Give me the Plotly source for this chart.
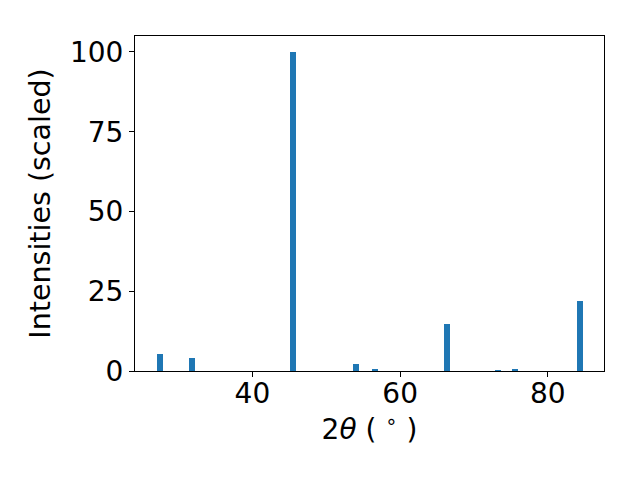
import plotly.graph_objects as go

two_theta = [27.45, 31.8, 45.5, 54.0, 56.6, 66.4, 73.2, 75.5, 84.3]
intensity = [5.3, 4.1, 100.0, 2.2, 0.6, 14.7, 0.3, 0.6, 21.9]
x_ticks = [40, 60, 80]
y_ticks = [0, 25, 50, 75, 100]

fig = go.Figure(go.Bar(x=two_theta, y=intensity, width=0.8,
                       marker=dict(color="#1f77b4", line=dict(width=0))))

axis_common = dict(showline=True, linecolor="black", linewidth=1.1, mirror=True,
                   ticks="outside", ticklen=5, tickwidth=1.1, tickcolor="black",
                   showgrid=False, zeroline=False,
                   tickfont=dict(size=28, color="black"))

fig.update_layout(
    width=640, height=480,
    margin=dict(l=127, r=44, t=28, b=117),
    paper_bgcolor="white", plot_bgcolor="white",
    font=dict(family="DejaVu Sans", size=28, color="black"),
    showlegend=False,
    bargap=0,
    xaxis=dict(range=[24.1, 87.6], tickvals=x_ticks, ticklabelstandoff=-8,
               title=dict(text="2<i>θ</i> ( <sup>∘</sup> )", standoff=5,
                          font=dict(size=28)),
               **axis_common),
    yaxis=dict(range=[0, 105], tickvals=y_ticks,
               title=dict(text="Intensities (scaled)", standoff=10,
                          font=dict(size=28.5)),
               **axis_common),
)

fig.write_html("out.html")
